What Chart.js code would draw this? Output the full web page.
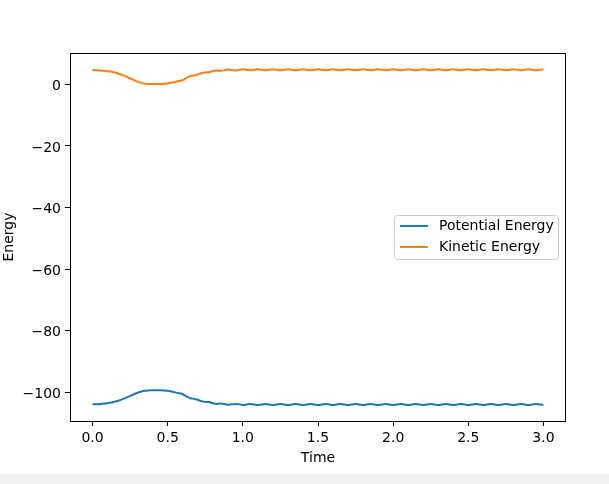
<!DOCTYPE html>
<html>
<head>
<meta charset="utf-8">
<script src="https://cdn.jsdelivr.net/npm/chart.js@4.4.1/dist/chart.umd.min.js"></script>
<style>
    body { margin: 0; background: #f0f0f0; }
    #energyChart { display: block; background: #ffffff; }
</style>
</head>
<body>
<canvas id="energyChart" width="609" height="474"></canvas>
<script>
const seriesLabels = ['Potential Energy', 'Kinetic Energy'];

const time = [
    0.000, 0.025, 0.050, 0.075, 0.100, 0.125, 0.150, 0.175, 0.200, 0.225,
    0.250, 0.275, 0.300, 0.325, 0.350, 0.375, 0.400, 0.425, 0.450, 0.475,
    0.500, 0.525, 0.550, 0.575, 0.600, 0.625, 0.650, 0.675, 0.700, 0.725,
    0.750, 0.775, 0.800, 0.825, 0.850, 0.875, 0.900, 0.925, 0.950, 0.975,
    1.000, 1.025, 1.050, 1.075, 1.100, 1.125, 1.150, 1.175, 1.200, 1.225,
    1.250, 1.275, 1.300, 1.325, 1.350, 1.375, 1.400, 1.425, 1.450, 1.475,
    1.500, 1.525, 1.550, 1.575, 1.600, 1.625, 1.650, 1.675, 1.700, 1.725,
    1.750, 1.775, 1.800, 1.825, 1.850, 1.875, 1.900, 1.925, 1.950, 1.975,
    2.000, 2.025, 2.050, 2.075, 2.100, 2.125, 2.150, 2.175, 2.200, 2.225,
    2.250, 2.275, 2.300, 2.325, 2.350, 2.375, 2.400, 2.425, 2.450, 2.475,
    2.500, 2.525, 2.550, 2.575, 2.600, 2.625, 2.650, 2.675, 2.700, 2.725,
    2.750, 2.775, 2.800, 2.825, 2.850, 2.875, 2.900, 2.925, 2.950, 2.975,
    3.000
];

const potentialEnergy = [
    -103.95, -103.92, -103.85, -103.75, -103.60, -103.40, -103.10, -102.75, -102.30, -101.80,
    -101.25, -100.70, -100.20, -99.80, -99.55, -99.44, -99.40, -99.40, -99.42, -99.48,
    -99.60, -99.80, -100.10, -100.40, -100.70, -101.40, -102.00, -102.20, -102.50, -103.00,
    -103.20, -103.25, -103.65, -103.85, -103.75, -103.85, -104.10, -103.98, -103.85, -103.95,
    -104.23, -104.05, -103.87, -104.04, -104.23, -104.06, -103.86, -104.05, -104.22, -104.05,
    -103.87, -104.04, -104.23, -104.06, -103.88, -104.05, -104.24, -104.05, -103.86, -104.04,
    -104.23, -104.06, -103.87, -104.05, -104.22, -104.05, -103.88, -104.04, -104.23, -104.06,
    -103.87, -104.05, -104.24, -104.05, -103.86, -104.04, -104.23, -104.06, -103.87, -104.05,
    -104.22, -104.05, -103.88, -104.04, -104.23, -104.06, -103.87, -104.05, -104.24, -104.05,
    -103.86, -104.04, -104.23, -104.06, -103.87, -104.05, -104.22, -104.05, -103.88, -104.04,
    -104.23, -104.06, -103.87, -104.05, -104.24, -104.05, -103.86, -104.04, -104.23, -104.06,
    -103.87, -104.05, -104.22, -104.05, -103.88, -104.04, -104.23, -104.06, -103.87, -104.05,
    -104.15
];

const kineticEnergy = [
    4.65, 4.62, 4.55, 4.45, 4.30, 4.10, 3.80, 3.45, 3.00, 2.50,
    1.95, 1.40, 0.90, 0.50, 0.25, 0.14, 0.10, 0.10, 0.12, 0.18,
    0.30, 0.50, 0.80, 1.10, 1.40, 2.10, 2.70, 2.90, 3.20, 3.70,
    3.90, 3.95, 4.35, 4.55, 4.45, 4.55, 4.80, 4.68, 4.55, 4.65,
    4.93, 4.75, 4.57, 4.74, 4.93, 4.76, 4.56, 4.75, 4.92, 4.75,
    4.57, 4.74, 4.93, 4.76, 4.58, 4.75, 4.94, 4.75, 4.56, 4.74,
    4.93, 4.76, 4.57, 4.75, 4.92, 4.75, 4.58, 4.74, 4.93, 4.76,
    4.57, 4.75, 4.94, 4.75, 4.56, 4.74, 4.93, 4.76, 4.57, 4.75,
    4.92, 4.75, 4.58, 4.74, 4.93, 4.76, 4.57, 4.75, 4.94, 4.75,
    4.56, 4.74, 4.93, 4.76, 4.57, 4.75, 4.92, 4.75, 4.58, 4.74,
    4.93, 4.76, 4.57, 4.75, 4.94, 4.75, 4.56, 4.74, 4.93, 4.76,
    4.57, 4.75, 4.92, 4.75, 4.58, 4.74, 4.93, 4.76, 4.57, 4.75,
    4.85
];

const xTicks = [0.0, 0.5, 1.0, 1.5, 2.0, 2.5, 3.0];
const yTicks = [-100, -80, -60, -40, -20, 0];

document.addEventListener("DOMContentLoaded", function() {
    const ctx = document.getElementById("energyChart").getContext('2d');
    const font = { family: "'DejaVu Sans', sans-serif", size: 14 };
    const colors = ['#1f77b4', '#ff7f0e'];

    const toPoints = values => values.map((v, i) => ({ x: time[i], y: v }));

    // frame round the axes and the legend box in the middle right
    const framePlugin = {
        id: 'framePlugin',
        afterDraw(chart) {
            const c = chart.ctx;
            const a = chart.chartArea;
            c.save();
            c.strokeStyle = '#000000';
            c.lineWidth = 1;
            c.strokeRect(Math.round(a.left) + 0.5, Math.round(a.top) + 0.5,
                Math.round(a.right - a.left) - 1, Math.round(a.bottom - a.top));

            const bx = 394.5, by = 215.5, bw = 164, bh = 44, r = 3;
            c.beginPath();
            c.roundRect(bx, by, bw, bh, r);
            c.fillStyle = 'rgba(255,255,255,0.8)';
            c.fill();
            c.strokeStyle = '#cccccc';
            c.stroke();

            c.font = `${font.size}px ${font.family}`;
            c.textBaseline = 'middle';
            c.textAlign = 'left';
            chart.data.datasets.forEach((ds, i) => {
                const ly = 226 + i * 21;
                c.beginPath();
                c.moveTo(400, ly);
                c.lineTo(428, ly);
                c.strokeStyle = ds.borderColor;
                c.lineWidth = 2;
                c.stroke();
                c.fillStyle = '#000000';
                c.fillText(ds.label, 439, ly);
            });
            c.restore();
        }
    };

    new Chart(ctx, {
        type: 'line',
        data: {
            datasets: [{
                label: seriesLabels[0],
                data: toPoints(potentialEnergy),
                borderColor: colors[0],
                borderWidth: 2,
                pointRadius: 0,
                tension: 0.4,
                fill: false
            }, {
                label: seriesLabels[1],
                data: toPoints(kineticEnergy),
                borderColor: colors[1],
                borderWidth: 2,
                pointRadius: 0,
                tension: 0.4,
                fill: false
            }]
        },
        options: {
            responsive: false,
            animation: false,
            devicePixelRatio: 1,
            layout: { padding: { top: 53, right: 43, left: 0, bottom: 0 } },
            plugins: {
                legend: { display: false },
                tooltip: { enabled: false }
            },
            scales: {
                x: {
                    type: 'linear',
                    min: -0.15,
                    max: 3.15,
                    afterFit: s => { s.height = 53; },
                    afterBuildTicks: s => { s.ticks = xTicks.map(v => ({ value: v })); },
                    grid: { drawOnChartArea: false, drawTicks: true, tickLength: 5, color: '#000000' },
                    border: { display: false },
                    ticks: {
                        color: '#000000',
                        font: font,
                        padding: 4,
                        maxRotation: 0,
                        callback: v => v.toFixed(1)
                    },
                    title: {
                        display: true,
                        text: 'Time',
                        color: '#000000',
                        font: font,
                        padding: { top: 0, bottom: 7 }
                    }
                },
                y: {
                    type: 'linear',
                    min: -109.4,
                    max: 10.2,
                    afterFit: s => { s.width = 70; },
                    afterBuildTicks: s => { s.ticks = yTicks.map(v => ({ value: v })); },
                    grid: { drawOnChartArea: false, drawTicks: true, tickLength: 5, color: '#000000' },
                    border: { display: false },
                    ticks: {
                        color: '#000000',
                        font: font,
                        padding: 4,
                        labelOffset: 2,
                        callback: v => String(v).replace('-', '\u2212')
                    },
                    title: {
                        display: true,
                        text: 'Energy',
                        color: '#000000',
                        font: font,
                        padding: { top: 1, bottom: 0 }
                    }
                }
            }
        },
        plugins: [framePlugin]
    });
});
</script>
</body>
</html>
